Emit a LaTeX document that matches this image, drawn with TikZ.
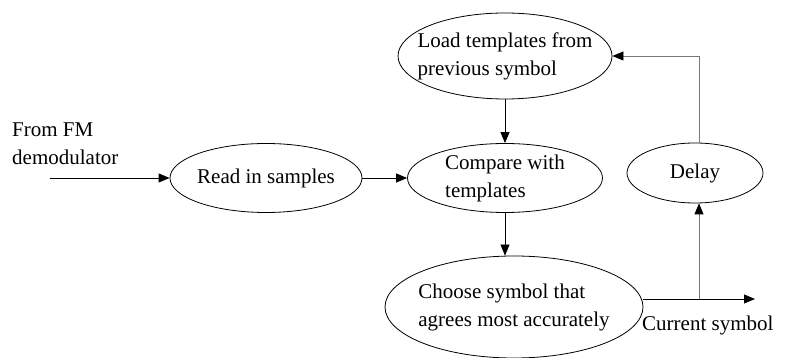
\documentclass[tikz,border=0pt]{standalone}
\usepackage{fontspec}
\setmainfont{Liberation Serif}
\usepackage{xcolor}
\usepackage{tikz}
\usetikzlibrary{shapes,arrows.meta,calc}
\usetikzlibrary{positioning}
\definecolor{fbgray}{RGB}{120,120,120}
\tikzset{
  blk/.style={draw,ellipse,line width=0.8pt,inner xsep=-15pt,inner ysep=0pt,align=left,
    font=\fontsize{21}{28}\selectfont},
  lbl/.style={align=left,font=\fontsize{21}{28}\selectfont,inner sep=0pt},
  flow/.style={line width=0.8pt,-{Triangle[length=11pt,width=9pt,black]}},
  fb/.style={flow,draw=fbgray}
}
\begin{document}
\begin{tikzpicture}[x=1pt,y=1pt]
\useasboundingbox (0,0) rectangle (787,358);
\node[blk,minimum width=214pt,minimum height=86pt] (load) at (505,302) {Load templates from\\previous symbol};
\node[blk,minimum width=195pt,minimum height=69pt] (cmp) at (505,180) {Compare with\\templates};
\node[blk,minimum width=192pt,minimum height=69pt] (read) at (266,180) {Read in samples};
\node[blk,minimum width=136pt,minimum height=60pt] (delay) at (695,185) {Delay};
\node[blk,minimum width=258pt,minimum height=102pt] (choose) at (514,51) {Choose symbol that\\agrees most accurately};
\node[lbl,anchor=west] (src) at (12,214) {From FM\\demodulator};
\node[lbl,anchor=west] (cur) at (642,33) {Current symbol};
\coordinate (in) at (50,180);
\coordinate (out) at (755,59);
\coordinate (br) at (699,59);
\draw[flow] (in) -- (read);
\draw[flow] (read) -- (cmp);
\draw[flow] (load) -- (cmp);
\draw[flow] (cmp.south) -- (cmp.south |- choose.north);
\draw[flow] (out -| choose.east) -- (out);
\draw[fb] (br) -- (br |- delay.south);
\draw[fb] (br |- delay.north) |- (load.east);
\end{tikzpicture}
\end{document}
